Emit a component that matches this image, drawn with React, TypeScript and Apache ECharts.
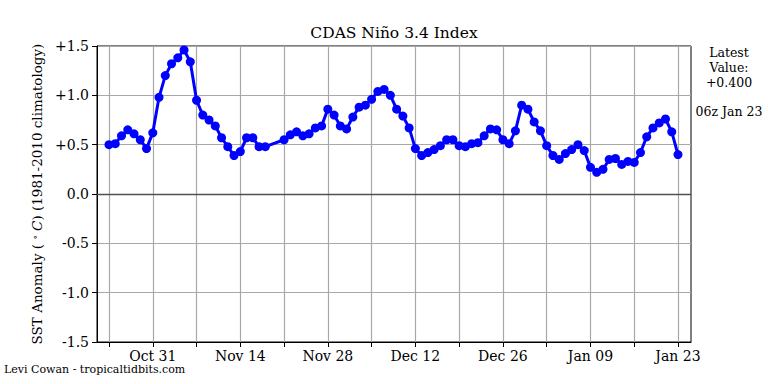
import React, { useEffect, useRef } from "react";
import * as echarts from "echarts";

// ---- data ----
const dates: string[] = [
  "2022-10-24","2022-10-25","2022-10-26","2022-10-27","2022-10-28","2022-10-29","2022-10-30","2022-10-31",
  "2022-11-01","2022-11-02","2022-11-03","2022-11-04","2022-11-05","2022-11-06","2022-11-07","2022-11-08",
  "2022-11-09","2022-11-10","2022-11-11","2022-11-12","2022-11-13","2022-11-14","2022-11-15","2022-11-16",
  "2022-11-17","2022-11-18","2022-11-21","2022-11-22","2022-11-23","2022-11-24","2022-11-25","2022-11-26",
  "2022-11-27","2022-11-28","2022-11-29","2022-11-30",
  "2022-12-01","2022-12-02","2022-12-03","2022-12-04","2022-12-05","2022-12-06","2022-12-07","2022-12-08",
  "2022-12-09","2022-12-10","2022-12-11","2022-12-12","2022-12-13","2022-12-14","2022-12-15","2022-12-16",
  "2022-12-17","2022-12-18","2022-12-19","2022-12-20","2022-12-21","2022-12-22","2022-12-23","2022-12-24",
  "2022-12-25","2022-12-26","2022-12-27","2022-12-28","2022-12-29","2022-12-30","2022-12-31",
  "2023-01-01","2023-01-02","2023-01-03","2023-01-04","2023-01-05","2023-01-06","2023-01-07","2023-01-08",
  "2023-01-09","2023-01-10","2023-01-11","2023-01-12","2023-01-13","2023-01-14","2023-01-15","2023-01-16",
  "2023-01-17","2023-01-18","2023-01-19","2023-01-20","2023-01-21","2023-01-22","2023-01-23",
];

const anomaly: number[] = [
  0.50, 0.51, 0.59, 0.65, 0.61, 0.55, 0.46, 0.62,
  0.98, 1.20, 1.32, 1.38, 1.46, 1.34, 0.95, 0.80,
  0.75, 0.69, 0.57, 0.48, 0.39, 0.43, 0.57, 0.57,
  0.48, 0.48, 0.55, 0.60, 0.63, 0.59, 0.61, 0.67,
  0.69, 0.86, 0.80, 0.69,
  0.66, 0.78, 0.88, 0.90, 0.96, 1.04, 1.06, 1.00,
  0.86, 0.79, 0.67, 0.46, 0.39, 0.42, 0.45, 0.49,
  0.55, 0.55, 0.49, 0.48, 0.51, 0.52, 0.59, 0.66,
  0.65, 0.55, 0.51, 0.64, 0.90, 0.86, 0.73,
  0.64, 0.49, 0.39, 0.35, 0.41, 0.45, 0.50, 0.44,
  0.27, 0.22, 0.25, 0.35, 0.36, 0.30, 0.33, 0.32,
  0.42, 0.58, 0.67, 0.72, 0.76, 0.63, 0.40,
];

const tickDates: string[] = [
  "2022-10-24","2022-10-31","2022-11-07","2022-11-14","2022-11-21","2022-11-28","2022-12-05",
  "2022-12-12","2022-12-19","2022-12-26","2023-01-02","2023-01-09","2023-01-16","2023-01-23",
];
const labelDates: string[] = ["2022-10-31","2022-11-14","2022-11-28","2022-12-12","2022-12-26","2023-01-09","2023-01-23"];
const labelTexts: string[] = ["Oct 31","Nov 14","Nov 28","Dec 12","Dec 26","Jan 09","Jan 23"];

const yTicks: number[] = [-1.5, -1.0, -0.5, 0.0, 0.5, 1.0, 1.5];

const origin = Date.UTC(2022, 9, 24);
const dayOf = (s: string) => {
  const [y, m, d] = s.split("-").map(Number);
  return (Date.UTC(y, m - 1, d) - origin) / 86400000;
};

const FONT = "DejaVu Serif";
const GRID_COLOR = "#a8a8a8";

export default function App() {
  const ref = useRef<HTMLDivElement>(null);
  useEffect(() => {
    document.body.style.margin = "0";
    if (!ref.current) return;
    const chart = echarts.init(ref.current, undefined, { renderer: "svg" });
    const tickDays = tickDates.map(dayOf);
    const labelDays = labelDates.map(dayOf);
    const seriesData = dates.map((d, i) => [dayOf(d), anomaly[i]]);
    const fmtY = (v: number) => (v > 0.0001 ? "+" + v.toFixed(1) : Math.abs(v) < 0.0001 ? "0.0" : v.toFixed(1));

    chart.setOption({
      animation: false,
      backgroundColor: "#fff",
      grid: {
        left: 97, top: 46, right: 77, bottom: 42,
        show: true, borderColor: "#000", borderWidth: 1, backgroundColor: "transparent",
      },
      xAxis: {
        type: "value",
        min: -1.92,
        max: 93.08,
        axisLine: { show: true, onZero: false, lineStyle: { color: "#000", width: 1 } },
        axisTick: { show: true, length: 5, customValues: tickDays, lineStyle: { color: "#000" } },
        axisLabel: {
          show: true,
          customValues: labelDays,
          margin: 7,
          fontFamily: FONT,
          fontSize: 14,
          color: "#000",
          formatter: (v: number) => {
            const idx = labelDays.findIndex((d) => Math.abs(d - v) < 0.01);
            return idx >= 0 ? labelTexts[idx] : "";
          },
        },
        splitLine: { show: true, lineStyle: { color: GRID_COLOR, width: 1.2 } },
      },
      yAxis: {
        type: "value",
        min: yTicks[0],
        max: yTicks[yTicks.length - 1],
        interval: 0.5,
        axisLine: { show: true, onZero: false, lineStyle: { color: "#000", width: 1 } },
        axisTick: { show: true, length: 5, lineStyle: { color: "#000" } },
        axisLabel: {
          fontFamily: FONT,
          fontSize: 14,
          color: "#000",
          margin: 8,
          formatter: (v: number) => fmtY(v),
        },
        splitLine: { show: true, lineStyle: { color: GRID_COLOR, width: 1.2 } },
      },
      series: [
        {
          type: "line",
          data: seriesData,
          symbol: "circle",
          symbolSize: 9,
          lineStyle: { color: "#0000ff", width: 3 },
          itemStyle: { color: "#0000ff" },
          z: 5,
          markLine: {
            silent: true,
            symbol: "none",
            label: { show: false },
            lineStyle: { color: "#505050", width: 1.4, type: "solid" },
            data: [{ yAxis: yTicks[3] }],
            z: 1,
          },
        },
      ],
      graphic: [
        {
          type: "text",
          x: 394, y: 33,
          style: { text: "CDAS Niño 3.4 Index", fontFamily: FONT, fontSize: 15.5, fill: "#000", align: "center", verticalAlign: "middle" },
        },
        {
          type: "text",
          x: 37, y: 194,
          rotation: Math.PI / 2,
          style: {
            text: "{n|SST Anomaly ( }{s|∘}{i| C}{n|) (1981-2010 climatology)}",
            align: "center",
            verticalAlign: "middle",
            fill: "#000",
            rich: {
              n: { fontFamily: FONT, fontSize: 13.5, fill: "#000" },
              s: { fontFamily: FONT, fontSize: 9, fill: "#000", verticalAlign: "top", padding: [0, 0, 5, 0] },
              i: { fontFamily: FONT, fontSize: 13.5, fontStyle: "italic", fill: "#000" },
            },
          },
        },
        {
          type: "text",
          x: 729, y: 45,
          style: {
            text: "Latest\nValue:\n+" + anomaly[anomaly.length - 1].toFixed(3),
            fontFamily: FONT, fontSize: 12.5, lineHeight: 15, fill: "#000", align: "center", verticalAlign: "top",
          },
        },
        {
          type: "text",
          x: 729, y: 111,
          style: { text: "06z " + labelTexts[labelTexts.length - 1], fontFamily: FONT, fontSize: 12.5, fill: "#000", align: "center", verticalAlign: "middle" },
        },
        {
          type: "text",
          x: 4, y: 369,
          style: { text: "Levi Cowan - tropicaltidbits.com", fontFamily: FONT, fontSize: 11, fill: "#000", align: "left", verticalAlign: "middle" },
        },
      ],
    });
    return () => chart.dispose();
  }, []);
  return <div ref={ref} style={{ width: 768, height: 384 }} />;
}
